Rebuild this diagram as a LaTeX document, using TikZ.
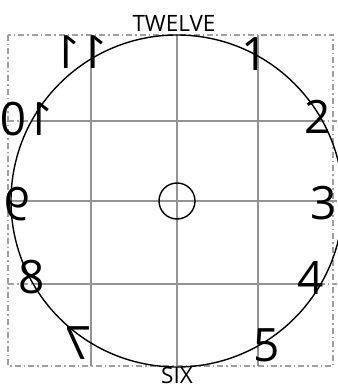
\documentclass[tikz,border=0pt]{standalone}
\usepackage{fontspec}
\setmainfont{Open Sans}
\begin{document}
\begin{tikzpicture}[x=1pt,y=-1pt,
    grid/.style={gray!85,line width=1.3pt},
    guide/.style={gray!75,line width=1.3pt,dash pattern=on 6pt off 3pt on 1.5pt off 3pt},
    num/.style={font=\fontsize{46}{46}\selectfont,inner sep=0pt},
    flip/.style={num,xscale=-1},
    side/.style={font=\fontsize{22.5}{22.5}\selectfont,inner sep=0pt}]
        \useasboundingbox (0,0) rectangle (337,387);
        \coordinate (c) at (177,201);
        \draw[guide] (8,35) rectangle (333,366);
        \foreach \y in {121,201,284} \draw[guide] (8,\y) -- (337,\y);
        \foreach \x in {91,177,258} \draw[grid] (\x,35) -- (\x,366);
        \begin{scope}
            \clip (c) circle (166);
            \foreach \y in {121,201,284} \draw[grid] (0,\y) -- (337,\y);
        \end{scope}
        \draw[line width=1.4pt] (c) circle (166); % dial
        \draw[line width=1.4pt] (c) circle (18);
        \node[side] (top) at (174,23) {TWELVE};
        \node[side] (bottom) at (177,375) {SIX};
        \node[num] (h1) at (255,54) {1};
        \node[num] (h2) at (318,117) {2};
        \node[num] (h3) at (324,203) {3};
        \node[num] (h4) at (311,278) {4};
        \node[num] (h5) at (267,345) {5};
        \node[flip] (h7) at (78,343) {7};
        \node[num] (h8) at (32,277) {8};
        \node[flip] (h9) at (17,204) {9};
        \node[flip] (h10) at (27,119) {10};
        \node[flip] (h11) at (81,52) {11};
\end{tikzpicture}
\end{document}
